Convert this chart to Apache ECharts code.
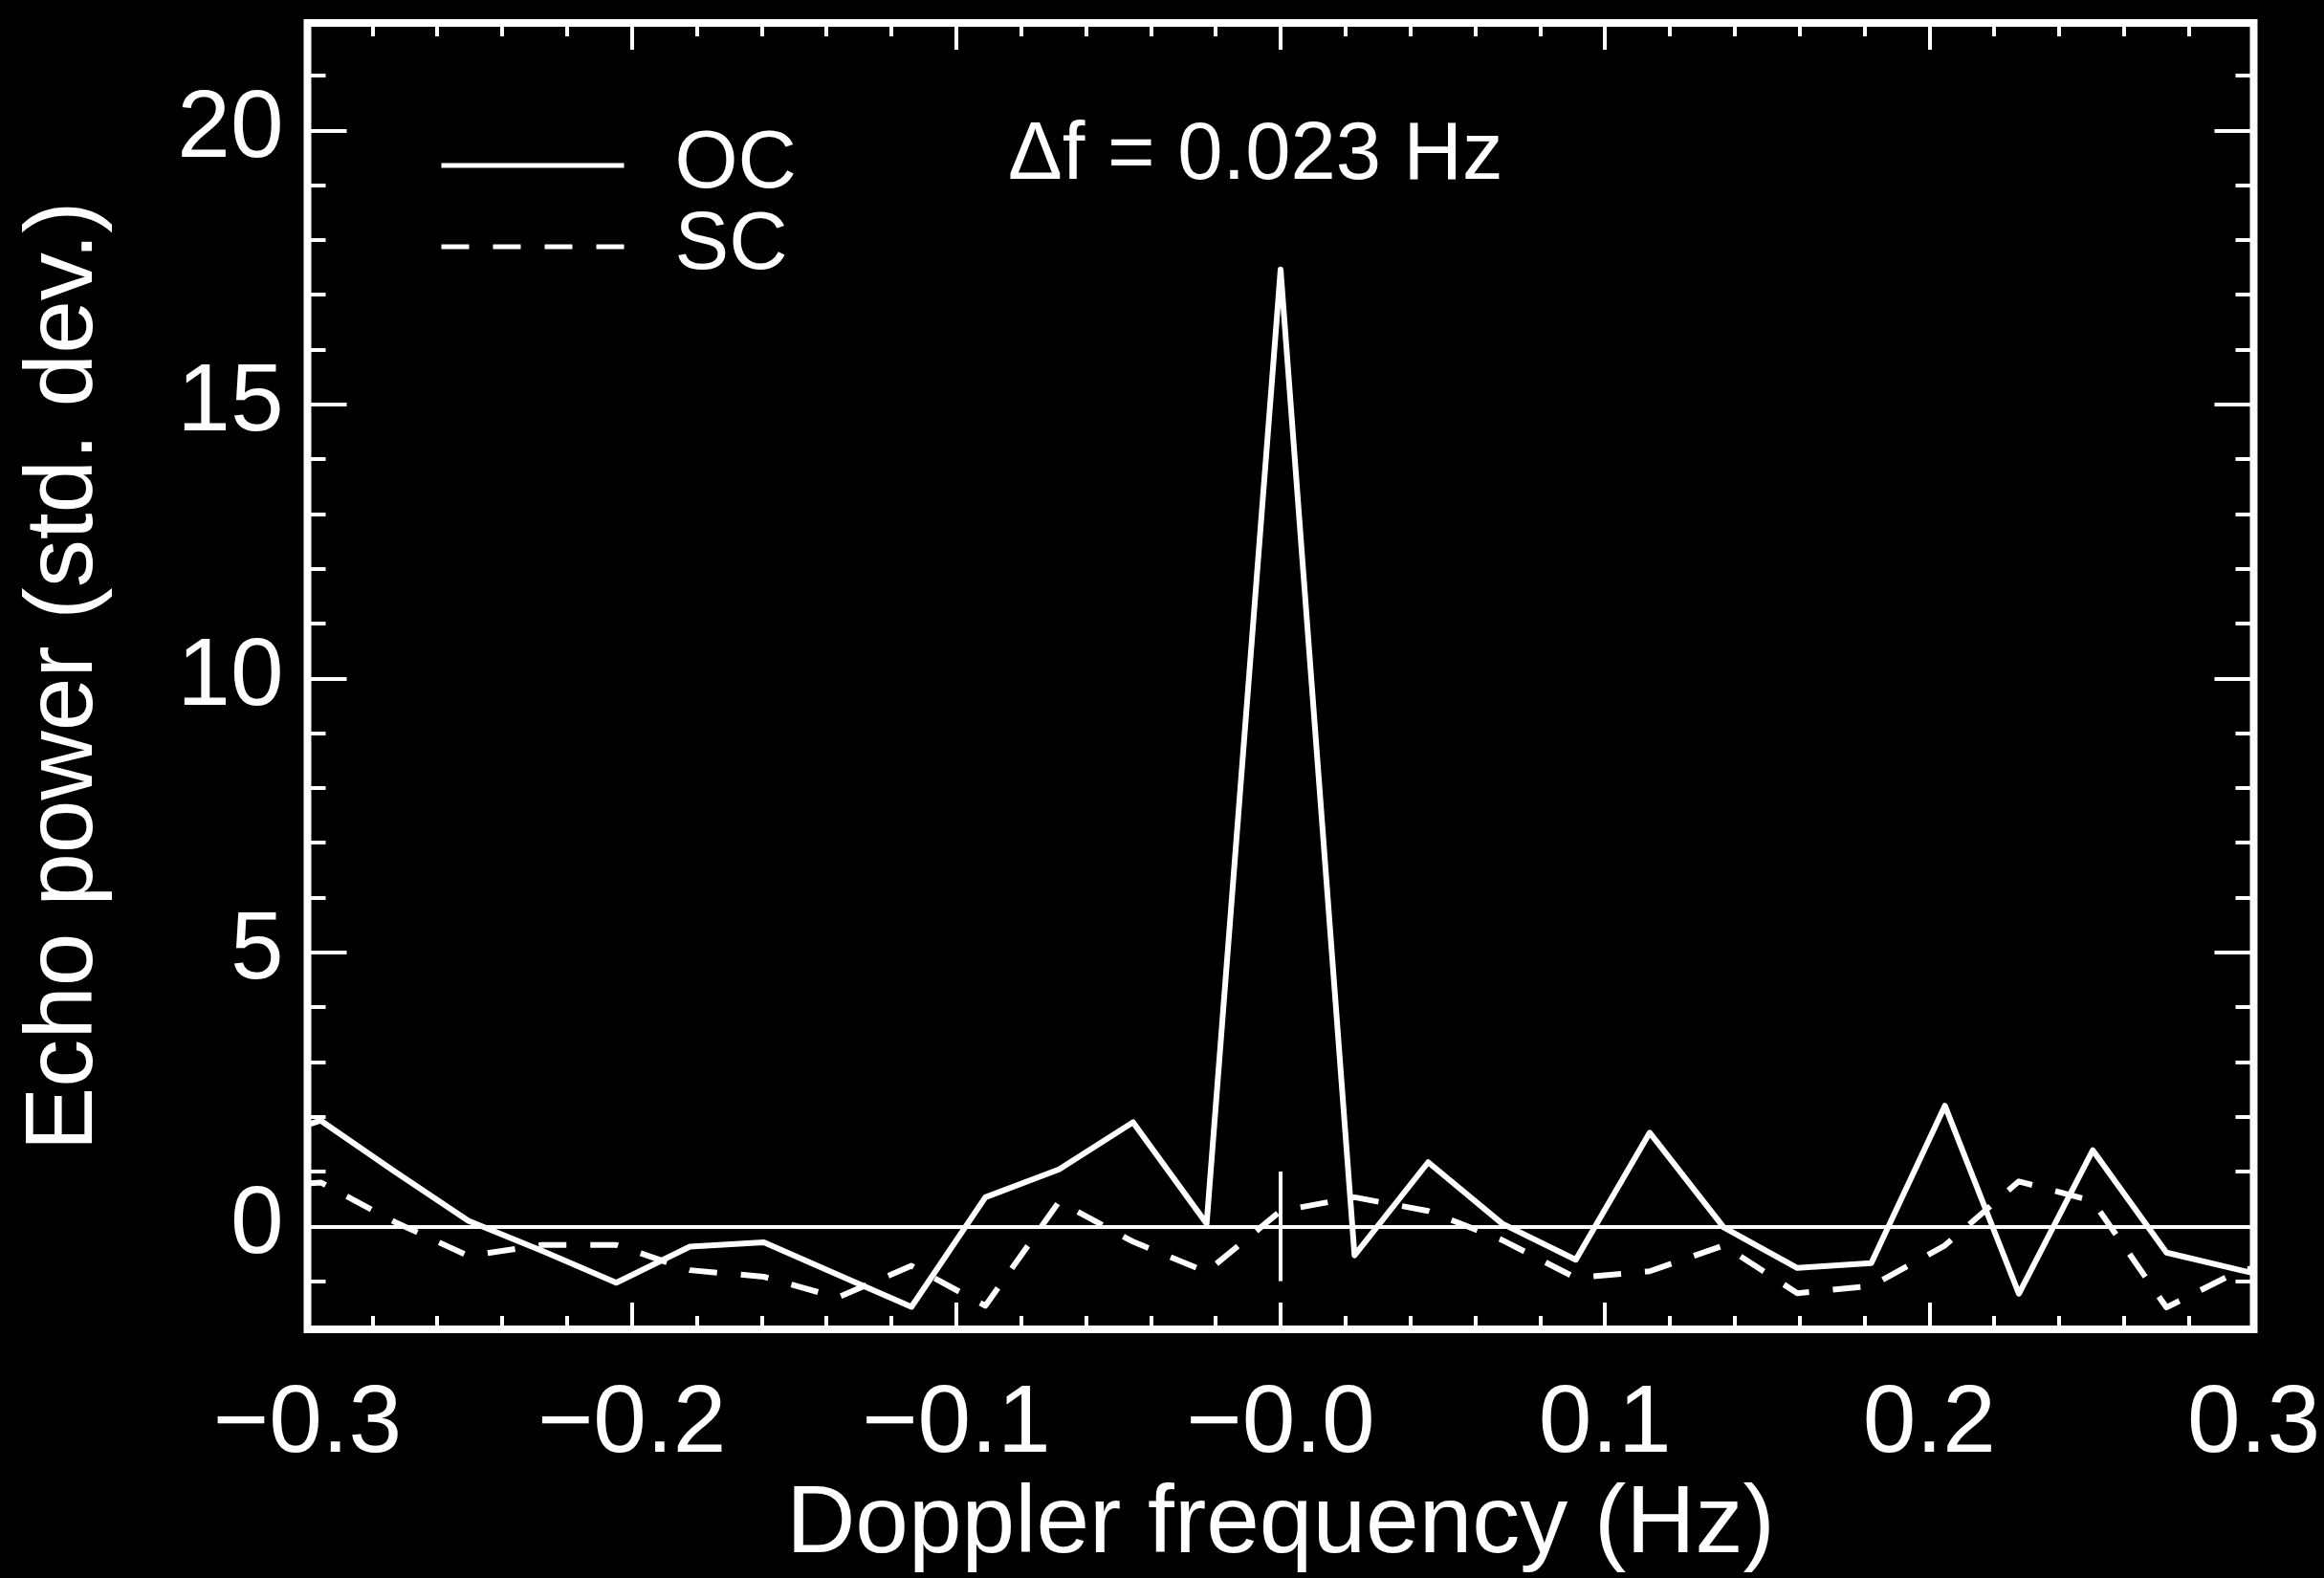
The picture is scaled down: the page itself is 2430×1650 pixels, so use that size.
<!DOCTYPE html>
<html>
<head>
<meta charset="utf-8">
<script src="https://cdn.jsdelivr.net/npm/echarts@6.0.0/dist/echarts.min.js"></script>
<style>
  html, body { margin: 0; padding: 0; background: #000; }
  #doppler-chart { width: 2430px; height: 1650px; }
</style>
</head>
<body>
<div id="doppler-chart"></div>
<script>
// Doppler bins (Hz), spacing ~0.023 Hz; first and last bins fall just outside the plotted range
var freqHz = [-0.3186, -0.2959, -0.2731, -0.2504, -0.2276, -0.2048, -0.1821, -0.1593, -0.1366, -0.1138,
  -0.0910, -0.0683, -0.0455, -0.0228, 0.0, 0.0228, 0.0455, 0.0683, 0.0910, 0.1138,
  0.1366, 0.1593, 0.1821, 0.2048, 0.2276, 0.2504, 0.2731, 0.2959, 0.3186];
var ocPower = [1.5, 1.93, 1.0, 0.1, -0.45, -1.03, -0.37, -0.29, -0.88, -1.47,
  0.53, 1.04, 1.9, 0.05, 17.46, -0.53, 1.17, 0.05, -0.61, 1.71,
  -0.02, -0.76, -0.67, 2.2, -1.23, 1.39, -0.48, -0.8, -1.1];
var scPower = [0.7, 0.8, 0.08, -0.54, -0.34, -0.34, -0.8, -0.92, -1.3, -0.72,
  -1.45, 0.45, -0.28, -0.83, 0.28, 0.53, 0.28, -0.25, -0.94, -0.82,
  -0.35, -1.22, -1.09, -0.35, 0.82, 0.46, -1.48, -0.8, -0.6];

var xMajorTicks = [-0.3, -0.2, -0.1, 0, 0.1, 0.2, 0.3];
var xTickLabels = ["\u22120.3", "\u22120.2", "\u22120.1", "\u22120.0", "0.1", "0.2", "0.3"];
var xMinorTicks = [-0.28, -0.26, -0.24, -0.22, -0.18, -0.16, -0.14, -0.12, -0.08, -0.06, -0.04, -0.02,
  0.02, 0.04, 0.06, 0.08, 0.12, 0.14, 0.16, 0.18, 0.22, 0.24, 0.26, 0.28];
var yMajorTicks = [0, 5, 10, 15, 20];
var yMinorTicks = [-1, 1, 2, 3, 4, 6, 7, 8, 9, 11, 12, 13, 14, 16, 17, 18, 19, 21];

var zeroLevel = 0;
var centerMark = { x: 0, from: -1, to: 1 };

var FONT = '"Liberation Sans", Arial, Helvetica, sans-serif';
var WHITE = "#ffffff";
var SC_DASH = [29, 25];

var chart = echarts.init(document.getElementById("doppler-chart"), null, { renderer: "canvas" });

function pairs(ys) {
  return freqHz.map(function (f, i) { return [f, ys[i]]; });
}

function tickAxis(kind, position, values, length, extra) {
  var axis = {
    type: "value",
    position: position,
    min: kind === "x" ? -0.3 : -1.88,
    max: kind === "x" ? 0.3 : 21.96,
    axisLine: { show: false, onZero: false },
    splitLine: { show: false },
    axisTick: {
      show: true,
      inside: true,
      length: length,
      customValues: values,
      lineStyle: { color: WHITE, width: 4 },
    },
    axisLabel: { show: false },
  };
  return Object.assign(axis, extra || {});
}

function legendFor(name, top, dash) {
  return {
    data: [name],
    left: 454,
    top: top,
    orient: "vertical",
    itemWidth: 191,
    itemHeight: 10,
    selectedMode: false,
    itemStyle: { opacity: 0 },
    lineStyle: { color: WHITE, width: 5, type: dash, cap: "butt" },
    textStyle: {
      color: WHITE,
      fontSize: 85,
      fontFamily: FONT,
      lineHeight: 72,
      padding: [0, 0, 22, 48],
    },
  };
}

var option = {
  backgroundColor: "#000000",
  animation: false,
  grid: {
    left: 321.5,
    top: 24,
    width: 2035,
    height: 1366,
    show: true,
    borderColor: WHITE,
    borderWidth: 8,
    backgroundColor: "transparent",
  },
  legend: [legendFor("OC", 121, "solid"), legendFor("SC", 206, SC_DASH)],
  graphic: [
    {
      type: "text",
      x: 1054,
      y: 164,
      style: {
        text: "\u0394f = 0.023 Hz",
        fill: WHITE,
        font: '85px ' + FONT,
        verticalAlign: "middle",
        align: "left",
      },
    },
  ],
  xAxis: [
    tickAxis("x", "bottom", xMajorTicks, 28, {
      axisLabel: {
        show: true,
        customValues: xMajorTicks,
        margin: 50,
        color: WHITE,
        fontSize: 100,
        fontFamily: FONT,
        formatter: function (v) {
          var i = xMajorTicks.findIndex(function (t) { return Math.abs(t - v) < 1e-9; });
          return i >= 0 ? xTickLabels[i] : "";
        },
      },
      name: "Doppler frequency (Hz)",
      nameLocation: "middle",
      nameGap: 155,
      nameTextStyle: { color: WHITE, fontSize: 100, fontFamily: FONT },
    }),
    tickAxis("x", "bottom", xMinorTicks, 14),
    tickAxis("x", "top", xMajorTicks, 28),
    tickAxis("x", "top", xMinorTicks, 14),
  ],
  yAxis: [
    tickAxis("y", "left", yMajorTicks, 41, {
      axisLabel: {
        show: true,
        customValues: yMajorTicks,
        margin: 25,
        color: WHITE,
        fontSize: 100,
        fontFamily: FONT,
      },
      name: "Echo power (std. dev.)",
      nameLocation: "middle",
      nameRotate: 90,
      nameGap: 203,
      nameTextStyle: { color: WHITE, fontSize: 100, fontFamily: FONT },
    }),
    tickAxis("y", "left", yMinorTicks, 19),
    tickAxis("y", "right", yMajorTicks, 41),
    tickAxis("y", "right", yMinorTicks, 19),
  ],
  series: [
    {
      name: "OC",
      type: "line",
      xAxisIndex: 0,
      yAxisIndex: 0,
      data: pairs(ocPower),
      symbol: "none",
      showSymbol: false,
      clip: true,
      lineStyle: { color: WHITE, width: 6, join: "round" },
      itemStyle: { color: WHITE },
      z: 3,
      markLine: {
        silent: true,
        symbol: ["none", "none"],
        label: { show: false },
        lineStyle: { color: WHITE, width: 4, type: "solid" },
        data: [
          { yAxis: zeroLevel },
          [{ coord: [centerMark.x, centerMark.from] }, { coord: [centerMark.x, centerMark.to] }],
        ],
      },
    },
    {
      name: "SC",
      type: "line",
      xAxisIndex: 0,
      yAxisIndex: 0,
      data: pairs(scPower),
      symbol: "none",
      showSymbol: false,
      clip: true,
      lineStyle: { color: WHITE, width: 6, type: SC_DASH, join: "round" },
      itemStyle: { color: WHITE },
      z: 3,
    },
  ],
};

chart.setOption(option);
</script>
</body>
</html>
